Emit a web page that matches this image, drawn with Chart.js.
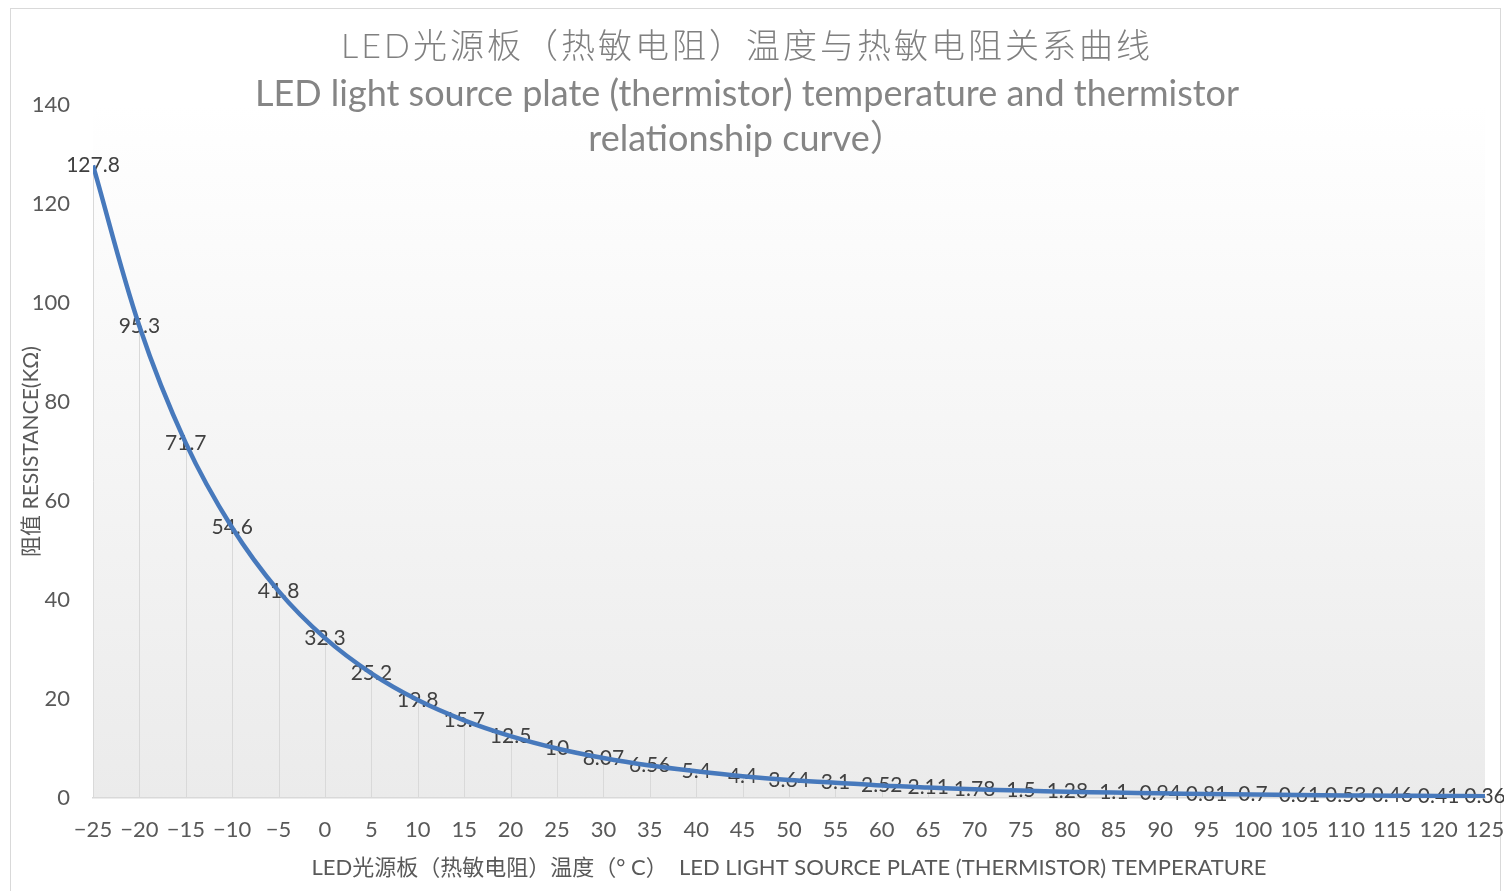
<!DOCTYPE html>
<html>
<head>
<meta charset="utf-8">
<script src="https://cdn.jsdelivr.net/npm/chart.js@4.4.1/dist/chart.umd.min.js"></script>
<style>
html, body { margin: 0; padding: 0; background: #fff; }
#wrap { position: relative; width: 1504px; height: 891px; overflow: hidden; }
#frame { position: absolute; left: 10px; top: 8px; width: 1491px; height: 900px; border: 1px solid #d9d9d9; box-sizing: border-box; }
#thermChart { position: absolute; left: 0; top: 0; }
</style>
</head>
<body>
<div id="wrap">
  <div id="frame"></div>
  <canvas id="thermChart" width="1504" height="891"></canvas>
</div>
<script>
// temperature (°C) vs thermistor resistance (kΩ)
const temperatures = [-25, -20, -15, -10, -5, 0, 5, 10, 15, 20, 25, 30, 35, 40, 45, 50, 55, 60, 65, 70, 75, 80, 85, 90, 95, 100, 105, 110, 115, 120, 125];
const resistance = [127.8, 95.3, 71.7, 54.6, 41.8, 32.3, 25.2, 19.8, 15.7, 12.5, 10, 8.07, 6.56, 5.4, 4.4, 3.64, 3.1, 2.52, 2.11, 1.78, 1.5, 1.28, 1.1, 0.94, 0.81, 0.7, 0.61, 0.53, 0.46, 0.41, 0.36];
const yTicks = [0, 20, 40, 60, 80, 100, 120, 140];

const titleLines = [
    'LED光源板（热敏电阻）温度与热敏电阻关系曲线',
    'LED light source plate (thermistor) temperature and thermistor',
    'relationship curve）'
];
const xTitle = 'LED光源板（热敏电阻）温度（° C）  LED LIGHT SOURCE PLATE (THERMISTOR) TEMPERATURE';
const yTitle = '阻值 RESISTANCE(KΩ)';

const latin = "Lato, 'Noto Sans CJK SC', sans-serif";

const plotBackground = {
    id: 'plotBackground',
    beforeDraw(chart) {
        const { ctx, chartArea: a } = chart;
        const g = ctx.createLinearGradient(0, a.top, 0, a.bottom);
        g.addColorStop(0, '#ffffff');
        g.addColorStop(1, '#ebebeb');
        ctx.save();
        ctx.fillStyle = g;
        ctx.fillRect(a.left, a.top, a.right - a.left, a.bottom - a.top);
        ctx.restore();
    }
};

// vertical drop lines + value labels, drawn under the curve
const dropLinesAndLabels = {
    id: 'dropLinesAndLabels',
    beforeDatasetsDraw(chart) {
        const { ctx } = chart;
        const meta = chart.getDatasetMeta(0);
        const base = chart.scales.y.getPixelForValue(0);
        ctx.save();
        ctx.strokeStyle = '#d9d9d9';
        ctx.lineWidth = 1;
        meta.data.forEach(p => {
            ctx.beginPath();
            ctx.moveTo(Math.round(p.x) + 0.5, p.y);
            ctx.lineTo(Math.round(p.x) + 0.5, base);
            ctx.stroke();
        });
        ctx.fillStyle = '#404040';
        ctx.font = '21px ' + latin;
        ctx.textAlign = 'center';
        ctx.textBaseline = 'middle';
        meta.data.forEach((p, i) => {
            ctx.fillText(String(resistance[i]), p.x, p.y);
        });
        ctx.restore();
    }
};

const chartTitle = {
    id: 'chartTitle',
    afterDraw(chart) {
        const { ctx } = chart;
        ctx.save();
        ctx.fillStyle = '#808080';
        ctx.textAlign = 'center';
        ctx.textBaseline = 'middle';
        ctx.font = '300 34px ' + latin;
        ctx.letterSpacing = '3px';
        ctx.fillText(titleLines[0], 747, 47);
        ctx.letterSpacing = '0px';
        ctx.fillStyle = '#858585';
        ctx.font = '36px ' + latin;
        ctx.fillText(titleLines[1], 747, 94);
        ctx.fillText(titleLines[2], 747, 139);
        ctx.restore();
    }
};

const ctx = document.getElementById('thermChart');
ctx.chart = new Chart(ctx, {
    type: 'line',
    data: {
        datasets: [{
            label: 'Resistance (kΩ)',
            data: temperatures.map((t, i) => ({ x: t, y: resistance[i] })),
            borderColor: '#4779bc',
            borderWidth: 4.5,
            pointRadius: 0,
            tension: 0.35,
            fill: false
        }]
    },
    options: {
        responsive: false,
        animation: false,
        layout: { padding: { left: 14, right: 0, top: 105, bottom: 8 } },
        plugins: {
            legend: { display: false },
            tooltip: { enabled: false },
            title: { display: false }
        },
        scales: {
            x: {
                type: 'linear',
                min: -25,
                max: 125,
                afterFit(scale) {
                    scale.height = 85;
                    scale.paddingLeft = 0;
                    scale.paddingRight = 19;
                },
                grid: { display: false },
                border: { color: '#d9d9d9', width: 1.5 },
                ticks: {
                    stepSize: 5,
                    autoSkip: false,
                    maxRotation: 0,
                    padding: 11,
                    color: '#595959',
                    font: { family: latin, size: 22 },
                    callback: v => (v < 0 ? '\u2212' + Math.abs(v) : String(v))
                },
                title: {
                    display: true,
                    text: xTitle,
                    color: '#595959',
                    padding: { top: 0, bottom: 2 },
                    font: { family: latin, size: 22 }
                }
            },
            y: {
                min: 0,
                max: 140,
                afterFit(scale) { scale.width = 79; },
                afterBuildTicks(scale) { scale.ticks = yTicks.map(v => ({ value: v })); },
                grid: { display: false },
                border: { display: false },
                ticks: {
                    padding: 15,
                    color: '#595959',
                    font: { family: latin, size: 22 }
                },
                title: {
                    display: true,
                    text: yTitle,
                    color: '#595959',
                    padding: { top: 5, bottom: 0 },
                    font: { family: latin, size: 21 }
                }
            }
        }
    },
    plugins: [plotBackground, dropLinesAndLabels, chartTitle]
});
</script>
</body>
</html>
